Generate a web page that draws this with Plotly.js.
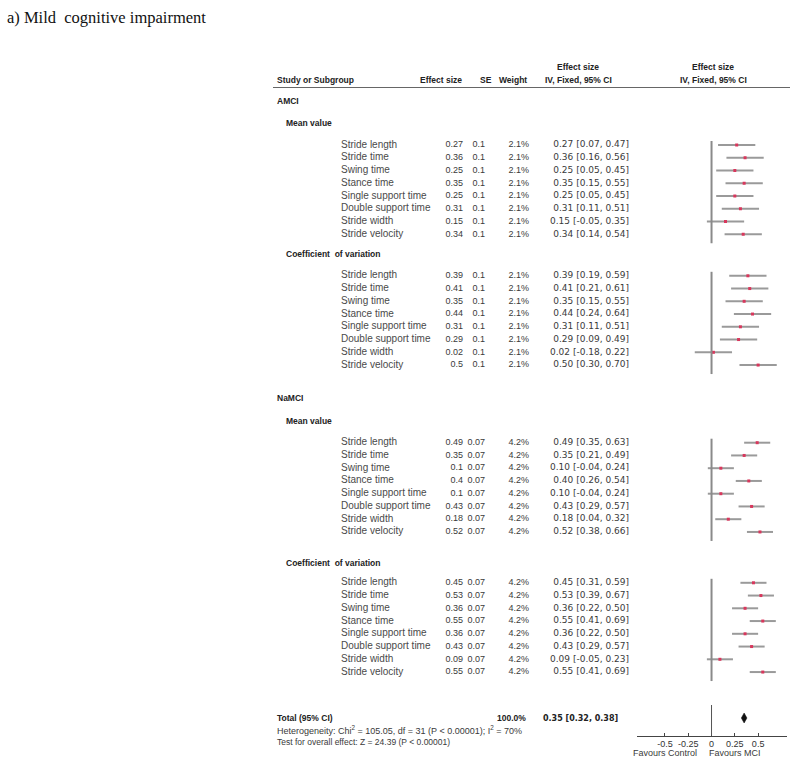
<!DOCTYPE html>
<html>
<head>
<meta charset="utf-8">
<script src="https://cdn.plot.ly/plotly-3.0.1.min.js"></script>
<style>html,body{margin:0;padding:0;background:#fff;}#chart{width:800px;height:774px;}</style>
</head>
<body>
<div id="chart"></div>
<script>
// ---------------- DATA ----------------
const outcomes = ["Stride length","Stride time","Swing time","Stance time","Single support time","Double support time","Stride width","Stride velocity"];

const amciMeanES = [0.27,0.36,0.25,0.35,0.25,0.31,0.15,0.34];
const amciMeanLo = [0.07,0.16,0.05,0.15,0.05,0.11,-0.05,0.14];
const amciMeanHi = [0.47,0.56,0.45,0.55,0.45,0.51,0.35,0.54];

const amciCvES = [0.39,0.41,0.35,0.44,0.31,0.29,0.02,0.5];
const amciCvLo = [0.19,0.21,0.15,0.24,0.11,0.09,-0.18,0.30];
const amciCvHi = [0.59,0.61,0.55,0.64,0.51,0.49,0.22,0.70];

const namciMeanES = [0.49,0.35,0.1,0.4,0.1,0.43,0.18,0.52];
const namciMeanLo = [0.35,0.21,-0.04,0.26,-0.04,0.29,0.04,0.38];
const namciMeanHi = [0.63,0.49,0.24,0.54,0.24,0.57,0.32,0.66];

const namciCvES = [0.45,0.53,0.36,0.55,0.36,0.43,0.09,0.55];
const namciCvLo = [0.31,0.39,0.22,0.41,0.22,0.29,-0.05,0.41];
const namciCvHi = [0.59,0.67,0.50,0.69,0.50,0.57,0.23,0.69];

const amciSE = 0.1;
const namciSE = 0.07;
const amciWeight = 2.1;
const namciWeight = 4.2;

const totalES = 0.35;
const totalLo = 0.32;
const totalHi = 0.38;
const totalWeight = 100.0;

const tickVals = [-0.5,-0.25,0,0.25,0.5];
const tickText = ["-0.5","-0.25","0","0.25","0.5"];

// ---------------- LAYOUT HELPERS (pixel positions) ----------------
const W = 800, H = 774;
const pitch = 12.75;
const sections = [
  {es: amciMeanES,  lo: amciMeanLo,  hi: amciMeanHi,  se: amciSE,  w: amciWeight,  y0: 145},
  {es: amciCvES,    lo: amciCvLo,    hi: amciCvHi,    se: amciSE,  w: amciWeight,  y0: 275.8},
  {es: namciMeanES, lo: namciMeanLo, hi: namciMeanHi, se: namciSE, w: namciWeight, y0: 442.7},
  {es: namciCvES,   lo: namciCvLo,   hi: namciCvHi,   se: namciSE, w: namciWeight, y0: 582.8}
];
const totalY = 718;
const axisY = 735.5;

const bodyFont = {family: "Liberation Sans, Arial, sans-serif", size: 9, color: "#3a3a3a"};
const ciFont = {family: "DejaVu Sans, Verdana, sans-serif", size: 9, color: "#3a3a3a"};
const labelFont = {family: "Liberation Sans, Arial, sans-serif", size: 10, color: "#4a4a4a"};
const boldFont = {family: "Liberation Sans, Arial, sans-serif", size: 8.5, color: "#222"};
const boldCiFont = {family: "DejaVu Sans, Verdana, sans-serif", size: 8, color: "#222"};

const colLabel = 341, colES = 463, colSE = 485, colW = 529, colCI = 629;

const traces = [];
const shapes = [];

sections.forEach(s => {
  const ys = s.es.map((_, i) => s.y0 + i * pitch);
  traces.push({x: ys.map(() => colLabel), y: ys, text: outcomes, mode: "text", textposition: "middle right",
    textfont: labelFont, xaxis: "x", yaxis: "y", hoverinfo: "skip", cliponaxis: false});
  traces.push({x: ys.map(() => colES), y: ys, text: s.es.map(v => String(v)), mode: "text", textposition: "middle left",
    textfont: bodyFont, xaxis: "x", yaxis: "y", hoverinfo: "skip", cliponaxis: false});
  traces.push({x: ys.map(() => colSE), y: ys, text: ys.map(() => String(s.se)), mode: "text", textposition: "middle left",
    textfont: bodyFont, xaxis: "x", yaxis: "y", hoverinfo: "skip", cliponaxis: false});
  traces.push({x: ys.map(() => colW), y: ys, text: ys.map(() => s.w.toFixed(1) + "%"), mode: "text", textposition: "middle left",
    textfont: bodyFont, xaxis: "x", yaxis: "y", hoverinfo: "skip", cliponaxis: false});
  traces.push({x: ys.map(() => colCI), y: ys,
    text: s.es.map((v, i) => v.toFixed(2) + " [" + s.lo[i].toFixed(2) + ", " + s.hi[i].toFixed(2) + "]"),
    mode: "text", textposition: "middle left", textfont: ciFont, xaxis: "x", yaxis: "y", hoverinfo: "skip", cliponaxis: false});
  traces.push({x: s.es, y: ys, mode: "markers", xaxis: "x2", yaxis: "y", hoverinfo: "skip", cliponaxis: false,
    marker: {symbol: "square", size: 3, color: "#d8375c"},
    error_x: {type: "data", symmetric: false, array: s.hi.map((h, i) => h - s.es[i]), arrayminus: s.lo.map((l, i) => s.es[i] - l),
      color: "#9a9a9a", thickness: 2, width: 0}});
  shapes.push({type: "line", xref: "x2", yref: "y", x0: 0, x1: 0, y0: ys[0] - 4, y1: ys[ys.length - 1] + 9,
    line: {color: "#8a8a8a", width: 2}});
});

traces.push({x: [totalLo, totalES, totalHi, totalES, totalLo], y: [totalY, totalY - 5, totalY, totalY + 5, totalY],
  mode: "lines", fill: "toself", fillcolor: "#111", line: {color: "#111", width: 0.5}, xaxis: "x2", yaxis: "y", hoverinfo: "skip"});
shapes.push({type: "line", xref: "x2", yref: "y", x0: 0, x1: 0, y0: 705, y1: axisY, line: {color: "#555", width: 1}});
shapes.push({type: "line", xref: "x", yref: "y", x0: 273, x1: 790, y0: 87.5, y1: 87.5, line: {color: "#666", width: 1}});

function ann(text, x, y, xanchor, font, xref) {
  return {text: text, x: x, y: y, xref: xref || "x", yref: "y", xanchor: xanchor, yanchor: "middle", showarrow: false, font: font};
}
const annotations = [
  ann("a) Mild  cognitive impairment", 5, 17, "left", {family: "Liberation Serif, Times New Roman, serif", size: 16.5, color: "#111"}),
  ann("<b>Study or Subgroup</b>", 275, 80, "left", boldFont),
  ann("<b>Effect size</b>", 441, 80, "center", boldFont),
  ann("<b>SE</b>", 486, 80, "center", boldFont),
  ann("<b>Weight</b>", 513, 80, "center", boldFont),
  ann("<b>Effect size</b>", 578, 67, "center", boldFont),
  ann("<b>IV, Fixed, 95% CI</b>", 578, 80, "center", boldFont),
  ann("<b>Effect size</b>", 713, 67, "center", boldFont),
  ann("<b>IV, Fixed, 95% CI</b>", 713, 80, "center", boldFont),
  ann("<b>AMCI</b>", 275, 101, "left", boldFont),
  ann("<b>Mean value</b>", 284, 122.5, "left", boldFont),
  ann("<b>Coefficient  of variation</b>", 284, 253.5, "left", boldFont),
  ann("<b>NaMCI</b>", 275, 398, "left", boldFont),
  ann("<b>Mean value</b>", 284, 421, "left", boldFont),
  ann("<b>Coefficient  of variation</b>", 284, 562.5, "left", boldFont),
  ann("<b>Total (95% CI)</b>", 275, totalY, "left", boldFont),
  ann("<b>" + totalWeight.toFixed(1) + "%</b>", 528, totalY, "right", boldFont),
  ann("<b>" + totalES.toFixed(2) + " [" + totalLo.toFixed(2) + ", " + totalHi.toFixed(2) + "]</b>", 620, totalY, "right", boldCiFont),
  ann("Heterogeneity: Chi<sup>2</sup> = 105.05, df = 31 (P &lt; 0.00001); I<sup>2</sup> = 70%", 275, 730, "left", bodyFont),
  ann("Test for overall effect: Z = 24.39 (P &lt; 0.00001)", 275, 742, "left", {family: "Liberation Sans, Arial, sans-serif", size: 8.5, color: "#3a3a3a"}),
  ann("Favours Control", -0.5, 753, "center", bodyFont, "x2"),
  ann("Favours MCI", 0.25, 753, "center", bodyFont, "x2")
];

const layout = {
  width: W, height: H,
  margin: {l: 0, r: 0, t: 0, b: 0},
  paper_bgcolor: "#fff", plot_bgcolor: "rgba(0,0,0,0)",
  showlegend: false,
  xaxis: {domain: [0, 1], range: [0, W], visible: false, fixedrange: true},
  yaxis: {domain: [0, 1], range: [H, 0], visible: false, fixedrange: true},
  xaxis2: {domain: [637 / W, 787 / W], range: [-0.8, 0.81], anchor: "free", position: 1 - axisY / H,
    showline: true, linecolor: "#444", linewidth: 1, ticks: "inside", ticklen: 3, tickcolor: "#444",
    tickvals: tickVals, ticktext: tickText, tickfont: {family: "Liberation Sans, Arial, sans-serif", size: 9, color: "#333"},
    showgrid: false, zeroline: false, fixedrange: true},
  shapes: shapes,
  annotations: annotations
};

Plotly.newPlot("chart", traces, layout, {displayModeBar: false, staticPlot: true});
</script>
</body>
</html>
